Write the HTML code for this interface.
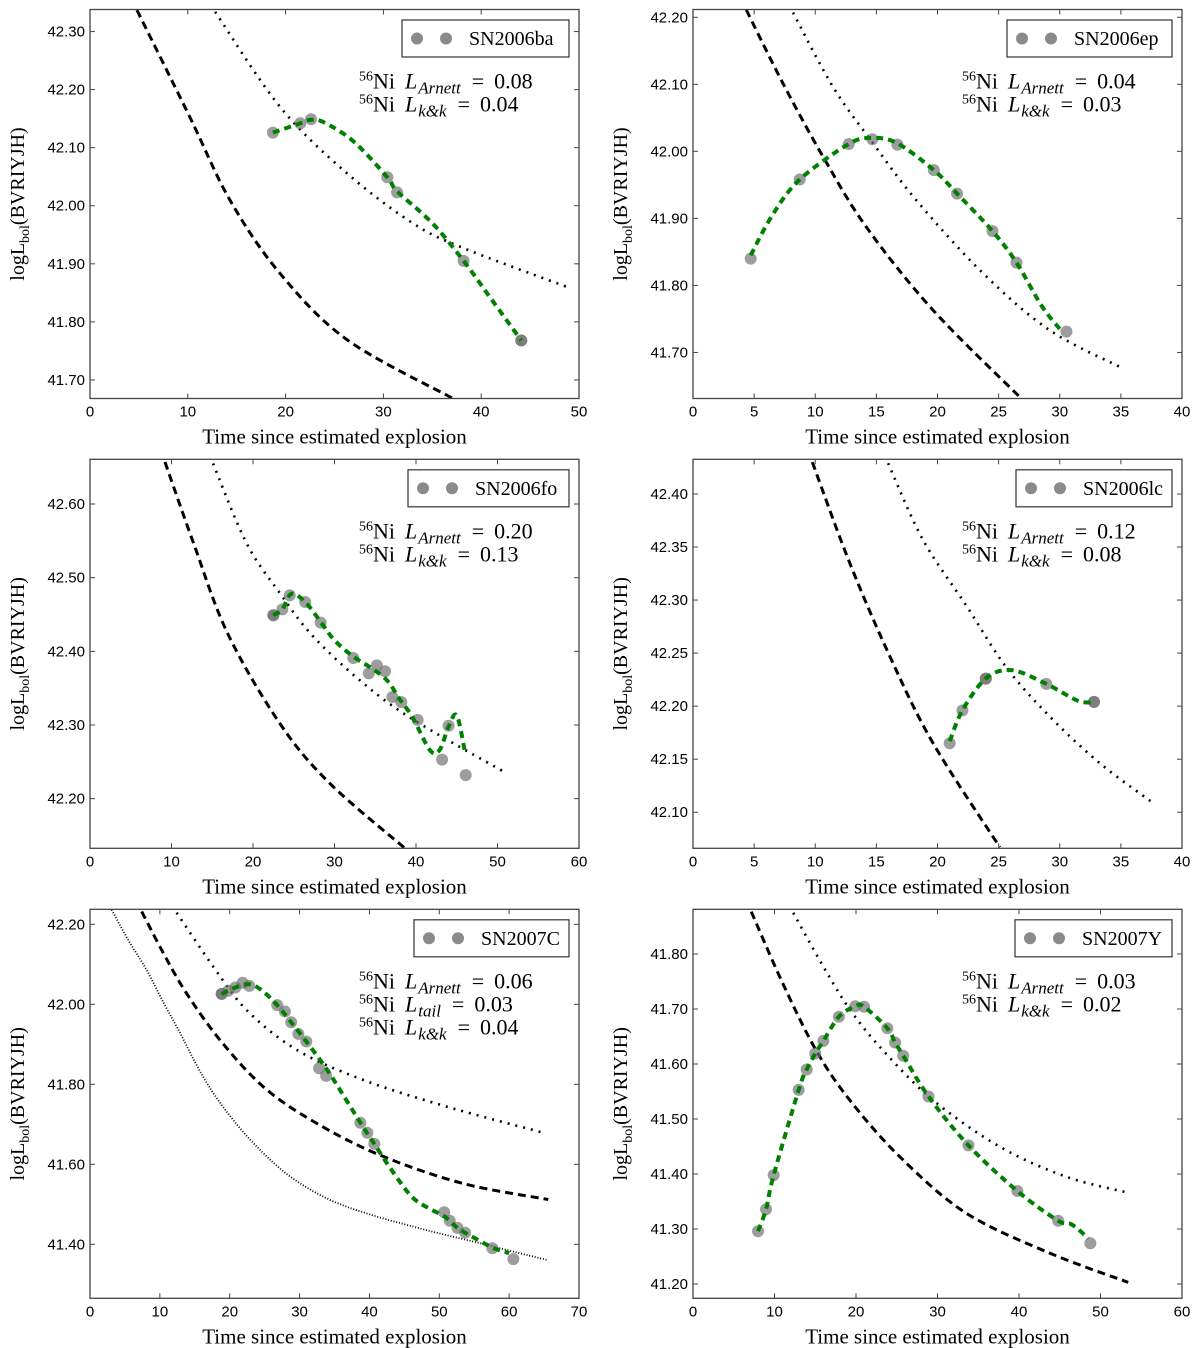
<!DOCTYPE html>
<html><head><meta charset="utf-8"><style>
html,body{margin:0;padding:0;background:#fff;}
svg{display:block;}
.tk{font-family:"Liberation Sans",sans-serif;font-size:15px;fill:#000;}
.sf{font-family:"Liberation Serif",serif;fill:#000;}
</style></head><body>
<svg id="fig" width="1200" height="1348" viewBox="0 0 1200 1348" xmlns="http://www.w3.org/2000/svg"></svg>
<script>
// ---- data arrays ----
const names = ["SN2006ba","SN2006ep","SN2006fo","SN2006lc","SN2007C","SN2007Y"];
const arnett = ["0.08","0.04","0.20","0.12","0.06","0.03"];
const kk = ["0.04","0.03","0.13","0.08","0.04","0.02"];
const tail = [null,null,null,null,"0.03",null];
const xTicks = [[0,10,20,30,40,50],[0,5,10,15,20,25,30,35,40],[0,10,20,30,40,50,60],[0,5,10,15,20,25,30,35,40],[0,10,20,30,40,50,60,70],[0,10,20,30,40,50,60]];
const yTicks = [[41.7,41.8,41.9,42.0,42.1,42.2,42.3],[41.7,41.8,41.9,42.0,42.1,42.2],[42.2,42.3,42.4,42.5,42.6],[42.10,42.15,42.20,42.25,42.30,42.35,42.40],[41.4,41.6,41.8,42.0,42.2],[41.2,41.3,41.4,41.5,41.6,41.7,41.8]];
const xMax = [50,40,60,40,70,60];
const yMin = [41.668,41.6313,42.1326,42.066,41.265,41.174];
const yMax = [42.338,42.2116,42.6607,42.4327,42.2375,41.8813];

const obsT = [
 [18.7,21.5,22.6,30.4,31.4,38.2,44.1,44.1],
 [4.72,8.73,12.74,14.67,16.72,19.7,21.6,24.5,26.46,30.55],
 [22.5,22.5,23.6,24.5,26.4,28.3,32.3,34.2,35.2,36.2,37.1,38.2,40.2,43.2,44.0,46.1],
 [21.0,22.04,23.95,23.95,28.9,32.8,32.8],
 [18.85,18.85,19.8,20.8,21.85,22.8,26.8,27.9,28.8,29.83,30.96,32.8,33.8,38.7,39.7,40.7,50.7,51.5,52.6,53.7,57.6,60.6],
 [7.98,8.96,9.9,12.97,13.95,15.0,16.0,17.9,19.9,21.0,23.85,24.8,25.8,28.9,33.8,39.8,44.8,48.75]
];
const obsL = [
 [42.126,42.142,42.149,42.049,42.023,41.905,41.768,41.768],
 [41.840,41.958,42.011,42.018,42.010,41.972,41.937,41.881,41.834,41.731],
 [42.449,42.449,42.457,42.476,42.467,42.439,42.391,42.370,42.381,42.373,42.338,42.331,42.307,42.253,42.299,42.232],
 [42.165,42.196,42.226,42.226,42.221,42.204,42.204],
 [42.026,42.026,42.034,42.042,42.054,42.046,41.998,41.982,41.955,41.926,41.907,41.840,41.821,41.704,41.679,41.651,41.480,41.459,41.441,41.429,41.390,41.363],
 [41.296,41.336,41.398,41.553,41.590,41.619,41.642,41.686,41.705,41.704,41.665,41.639,41.615,41.541,41.452,41.369,41.315,41.274]
];
const fitT = [
 [18.7,21.5,22.6,24,27,30.4,31.4,35,38.2,41,44.1],
 [4.72,6.5,8.73,12.74,14.67,16.72,19.7,21.6,24.5,26.46,28.5,30.0],
 [22.5,23.6,24.7,26.4,28.3,30,32.3,34.7,36.5,38,39.6,41.7,42.9,44.0,45.0,46.0],
 [21.0,22.04,23.95,26.05,28.9,31.5,32.8],
 [18.85,20.8,22.8,24.5,26.8,28.8,30.96,33.8,36,38.7,40.7,43,46,48.5,50.7,52.6,53.7,57.6,60.0],
 [7.98,8.96,9.9,12.97,13.95,15.0,16.0,17.9,19.9,21.0,23.85,24.8,25.8,28.9,33.8,39.8,44.8,46.5,48.5]
];
const fitL = [
 [42.126,42.142,42.148,42.143,42.11,42.049,42.025,41.97,41.905,41.84,41.768],
 [41.845,41.905,41.958,42.011,42.020,42.012,41.972,41.937,41.881,41.834,41.77,41.735],
 [42.449,42.457,42.478,42.467,42.440,42.415,42.393,42.376,42.360,42.335,42.310,42.266,42.266,42.298,42.313,42.264],
 [42.167,42.196,42.226,42.234,42.221,42.205,42.204],
 [42.026,42.042,42.050,42.036,41.998,41.955,41.907,41.840,41.78,41.704,41.651,41.59,41.52,41.49,41.470,41.441,41.429,41.392,41.378],
 [41.296,41.336,41.398,41.553,41.590,41.619,41.642,41.686,41.705,41.704,41.665,41.639,41.615,41.541,41.452,41.369,41.315,41.308,41.283]
];
const dashT = [[4.8,10.2,14.3,19.4,26.3,37.0],[4.36,7.37,10.64,14.18,19.64,26.87],[9.2,12.7,16.9,23.3,29.4,38.6],[9.76,12.82,16.1,19.64,25.1],[7.4,10.5,13.8,18.6,24.8,32.0,41.5,53.4,65.6],[7.15,11.0,15.1,19.2,25.4,33.5,43.8,53.4]];
const dashL = [[42.337,42.153,42.010,41.884,41.769,41.669],[42.211,42.101,41.992,41.887,41.763,41.631],[42.657,42.547,42.424,42.302,42.221,42.133],[42.430,42.335,42.247,42.165,42.067],[42.232,42.128,42.028,41.911,41.794,41.707,41.623,41.552,41.512],[41.877,41.747,41.625,41.535,41.431,41.329,41.256,41.203]];
const kkT = [[12.8,19.4,26.2,33.0,38.2,48.8],[8.18,11.46,14.73,18.27,23.73,29.19,35.19],[15.1,19.2,23.3,27.4,33.5,39.7,50.7],[15.96,18.8,22.4,25.6,29.2,33.3,37.6],[12.4,17.65,22.4,29.6,39.1,51.1,65.1],[12.3,16.0,19.3,23.3,29.4,37.6,45.8,53.4]];
const kkL = [[42.334,42.171,42.057,41.970,41.927,41.860],[42.207,42.096,42.012,41.927,41.818,41.733,41.676],[42.655,42.547,42.479,42.420,42.357,42.307,42.237],[42.429,42.357,42.294,42.237,42.190,42.146,42.109],[42.229,42.094,41.986,41.886,41.811,41.744,41.678],[41.875,41.777,41.698,41.625,41.535,41.450,41.395,41.366]];
const tailT = [null,null,null,null,[3.1,5.5,8.1,10.5,12.9,15.2,17.65,21,24.8,29,34.35,40,46.3,51,55.8,60.5,65.4],null];
const tailL = [null,null,null,null,[42.236,42.160,42.086,42.005,41.928,41.850,41.778,41.700,41.628,41.565,41.511,41.475,41.444,41.423,41.403,41.382,41.361],null];

// ---- rendering ----
const NS="http://www.w3.org/2000/svg";
const svg=document.getElementById('fig');
function mk(tag,attrs,parent){const e=document.createElementNS(NS,tag);for(const k in attrs)e.setAttribute(k,attrs[k]);(parent||svg).appendChild(e);return e;}
function smooth(pts){
  if(pts.length<2)return "";
  let d="M"+pts[0][0].toFixed(2)+","+pts[0][1].toFixed(2);
  for(let i=0;i<pts.length-1;i++){
    const p0=pts[Math.max(0,i-1)],p1=pts[i],p2=pts[i+1],p3=pts[Math.min(pts.length-1,i+2)];
    const c1=[p1[0]+(p2[0]-p0[0])/6,p1[1]+(p2[1]-p0[1])/6];
    const c2=[p2[0]-(p3[0]-p1[0])/6,p2[1]-(p3[1]-p1[1])/6];
    d+=" C"+c1.map(v=>v.toFixed(2)).join(",")+" "+c2.map(v=>v.toFixed(2)).join(",")+" "+p2[0].toFixed(2)+","+p2[1].toFixed(2);
  }
  return d;
}
const legW=[167,165,161,156,155,157];
const W=489,H=389;
for(let p=0;p<6;p++){
  const L=p%2===0?90:693, T=[9.5,459.3,909.3][Math.floor(p/2)];
  const sx=v=>L+v/xMax[p]*W;
  const sy=v=>T+(yMax[p]-v)/(yMax[p]-yMin[p])*H;
  const g=mk('g',{});
  
  
  const cid='clip'+p;
  const cp=mk('clipPath',{id:cid},g); mk('rect',{x:L,y:T,width:W,height:H},cp);
  const plot=mk('g',{'clip-path':'url(#'+cid+')'},g);
  const dpath=mk('path',{d:smooth(dashT[p].map((t,i)=>[sx(t),sy(dashL[p][i])])),fill:'none',stroke:'#000','stroke-width':3,'stroke-dasharray':'8,5'},plot);
  
  
  const kpath=mk('path',{d:smooth(kkT[p].map((t,i)=>[sx(t),sy(kkL[p][i])])),fill:'none',stroke:'#000','stroke-width':2.6,'stroke-dasharray':'2,6','stroke-linecap':'butt'},plot);
  
  
  if(tailT[p]){
    const tp=mk('path',{d:smooth(tailT[p].map((t,i)=>[sx(t),sy(tailL[p][i])])),fill:'none',stroke:'#000','stroke-width':1.8,'stroke-dasharray':'1,1.8'},plot);
    
    
  }
  obsT[p].forEach((t,i)=>{
    const c=mk('circle',{cx:sx(t),cy:sy(obsL[p][i]),r:6,fill:'#6e6e6e','fill-opacity':0.68},plot);
    
    
  });
  const fp=mk('path',{d:smooth(fitT[p].map((t,i)=>[sx(t),sy(fitL[p][i])])),fill:'none',stroke:'#008000','stroke-width':4,'stroke-dasharray':'7,5'},plot);
  
  
  const fr=mk('rect',{x:L,y:T,width:W,height:H,fill:'none',stroke:'#444','stroke-width':1.3},g);
  
  
  xTicks[p].forEach(v=>{
    const x=sx(v);
    mk('line',{x1:x,y1:T+H,x2:x,y2:T+H-5,stroke:'#444'},g);
    mk('line',{x1:x,y1:T,x2:x,y2:T+5,stroke:'#444'},g);
    const tx=mk('text',{x:x,y:T+H+18,'text-anchor':'middle',class:'tk'},g);
    tx.textContent=String(v);
    
    
  });
  yTicks[p].forEach(v=>{
    const y=sy(v);
    mk('line',{x1:L,y1:y,x2:L+5,y2:y,stroke:'#444'},g);
    mk('line',{x1:L+W,y1:y,x2:L+W-5,y2:y,stroke:'#444'},g);
    const ty=mk('text',{x:L-5,y:y+5,'text-anchor':'end',class:'tk'},g);
    ty.textContent=v.toFixed(2);
    
    
  });
  const xt=mk('text',{x:L+W/2,y:T+H+45,'text-anchor':'middle',class:'sf','font-size':21},g);
  xt.textContent='Time since estimated explosion';
  
  
  const yx=L-66, yc=T+H/2;
  const yt=mk('text',{x:yx,y:yc,'text-anchor':'middle',class:'sf','font-size':20,transform:'rotate(-90 '+yx+' '+yc+')'},g);
  
  
  let s=mk('tspan',{},yt); s.textContent='logL';
  s=mk('tspan',{'font-size':14,dy:5},yt); s.textContent='bol';
  s=mk('tspan',{dy:-5},yt); s.textContent='(BVRIYJH)';
  const lw=legW[p], lx=L+W-10-lw, ly=T+10.5;
  const lg=mk('g',{},g);
  
  
  mk('rect',{x:lx,y:ly,width:lw,height:37,fill:'#fff',stroke:'#333','stroke-width':1.2},lg);
  mk('circle',{cx:lx+15,cy:ly+18.5,r:6,fill:'#8a8a8a'},lg);
  mk('circle',{cx:lx+44,cy:ly+18.5,r:6,fill:'#8a8a8a'},lg);
  const lt=mk('text',{x:lx+67,y:ly+25,class:'sf','font-size':20},lg);
  lt.textContent=names[p];
  const ann=mk('g',{},g);
  
  
  const lines=[['Arnett',arnett[p]]];
  if(tail[p])lines.push(['tail',tail[p]]);
  lines.push(['k&k',kk[p]]);
  lines.forEach((ln,i)=>{
    const t=mk('text',{x:L+269,y:T+79+i*23,class:'sf','font-size':22},ann);
    let a=mk('tspan',{'font-size':14,dy:-8},t); a.textContent='56';
    a=mk('tspan',{dy:8},t); a.textContent='Ni';
    a=mk('tspan',{'font-style':'italic',dx:10},t); a.textContent='L';
    a=mk('tspan',{'font-style':'italic','font-size':17,dy:5,dx:1},t); a.textContent=ln[0];
    a=mk('tspan',{dy:-5,dx:11},t); a.textContent='=';
    a=mk('tspan',{dx:10},t); a.textContent=ln[1];
  });
}
</script>
</body></html>
